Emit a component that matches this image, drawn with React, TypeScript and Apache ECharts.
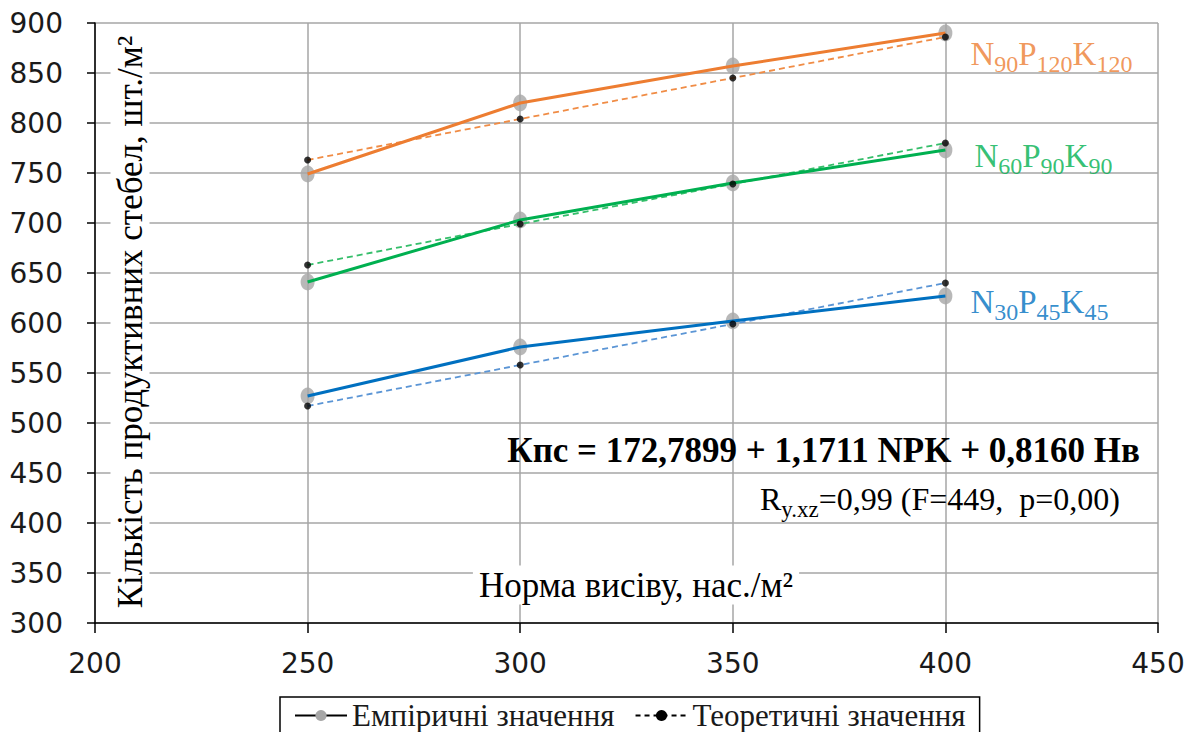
import React, { useEffect, useRef } from "react";
import * as echarts from "echarts";

const xValues = [250, 300, 350, 400];
const empHigh = [749, 820, 857, 890];
const empMid = [641, 703, 740, 773];
const empLow = [527, 576, 602, 627];
const theoHigh = [763, 804, 845, 886];
const theoMid = [658, 699, 739, 780];
const theoLow = [517, 558, 599, 640];

const xTicks = { min: 200, max: 450, interval: 50 };
const yTicks = { min: 300, max: 900, interval: 50 };

const groups = [
  { key: "high", emp: empHigh, theo: theoHigh, color: "#ED7D31", dash: "#F08C45", sub: ["90", "120", "120"], offset: [18, 19] },
  { key: "mid", emp: empMid, theo: theoMid, color: "#00B050", dash: "#35BE6A", sub: ["60", "90", "90"], offset: [22, 4] },
  { key: "low", emp: empLow, theo: theoLow, color: "#0070C0", dash: "#5B95D5", sub: ["30", "45", "45"], offset: [18, 4] },
];

const SERIF = "'Liberation Serif', 'Times New Roman', serif";
const SANS = "'DejaVu Sans', Verdana, sans-serif";

export default function App() {
  const ref = useRef<HTMLDivElement>(null);
  useEffect(() => {
    if (!ref.current) return;
    const chart = echarts.init(ref.current, undefined, { renderer: "svg" });
    const pts = (arr: number[]) => xValues.map((x, i) => [x, arr[i]]);
    const series: any[] = [];
    groups.forEach((g) => {
      const labelText = `{n|N}{s|${g.sub[0]}}{n|P}{s|${g.sub[1]}}{n|K}{s|${g.sub[2]}}`;
      series.push({
        type: "scatter",
        name: g.key + "-empmarks",
        z: 1,
        symbol: "circle",
        symbolSize: [14, 17],
        itemStyle: { color: "#A6A6A6" },
        data: pts(g.emp).map((p, i) =>
          i === xValues.length - 1
            ? {
                value: p,
                label: {
                  show: true,
                  position: "right",
                  distance: 0,
                  offset: g.offset,
                  formatter: labelText,
                  rich: {
                    n: { fontFamily: SERIF, fontSize: 33, color: g.color, verticalAlign: "bottom", lineHeight: 36 },
                    s: { fontFamily: SERIF, fontSize: 24, color: g.color, verticalAlign: "bottom", lineHeight: 36, padding: [0, 0, -6, 0] },
                  },
                },
              }
            : { value: p }
        ),
      });
      series.push({
        type: "line",
        name: g.key + "-theo",
        z: 2,
        symbol: "none",
        lineStyle: { color: g.dash, width: 1.8, type: [6, 4] },
        data: pts(g.theo),
      });
      series.push({
        type: "line",
        name: g.key + "-emp",
        z: 3,
        symbol: "none",
        lineStyle: { color: g.color, width: 3 },
        data: pts(g.emp),
      });
      series.push({
        type: "scatter",
        name: g.key + "-theomarks",
        z: 4,
        symbol: "circle",
        symbolSize: 7,
        itemStyle: { color: "#000" },
        data: pts(g.theo),
      });
    });
    series.push({
      type: "line",
      name: "Емпіричні значення",
      symbol: "circle",
      symbolSize: 14,
      itemStyle: { color: "#A6A6A6" },
      lineStyle: { color: "#000", width: 3 },
      data: [],
    });
    series.push({
      type: "line",
      name: "Теоретичні значення",
      symbol: "circle",
      symbolSize: 7,
      itemStyle: { color: "#000" },
      lineStyle: { color: "#000", width: 1.5, type: [5, 4] },
      data: [],
    });

    chart.setOption({
      animation: false,
      backgroundColor: "#fff",
      grid: { left: 95, right: 38, top: 23, bottom: 117 },
      xAxis: {
        type: "value",
        min: xTicks.min,
        max: xTicks.max,
        interval: xTicks.interval,
        axisLine: { show: true, lineStyle: { color: "#000", width: 1.5 } },
        axisTick: { show: true, length: 10, lineStyle: { color: "#000", width: 1.5 } },
        axisLabel: { margin: 26, fontFamily: SANS, fontSize: 28, color: "#1a1a1a" },
        splitLine: { show: true, lineStyle: { color: "#A6A6A6", width: 1.5 } },
      },
      yAxis: {
        type: "value",
        min: yTicks.min,
        max: yTicks.max,
        interval: yTicks.interval,
        axisLine: { show: true, lineStyle: { color: "#000", width: 1.5 } },
        axisTick: { show: true, length: 8, lineStyle: { color: "#000", width: 1.5 } },
        axisLabel: { margin: 32, fontFamily: SANS, fontSize: 28, color: "#1a1a1a" },
        splitLine: { show: true, lineStyle: { color: "#A6A6A6", width: 1.5 } },
      },
      legend: {
        data: ["Емпіричні значення", "Теоретичні значення"],
        left: 280,
        top: 697,
        padding: [3, 14, 14, 14],
        borderColor: "#000",
        borderWidth: 1.5,
        itemWidth: 52,
        itemHeight: 14,
        itemGap: 20,
        textStyle: { fontFamily: SERIF, fontSize: 31, color: "#1a1a1a" },
      },
      graphic: [
        {
          type: "text",
          z: 1,
          x: 130,
          y: 322,
          rotation: Math.PI / 2,
          style: {
            text: "Кількість продуктивних стебел, шт./м²",
            fontFamily: SERIF,
            fontSize: 35,
            fill: "#000",
            align: "center",
            verticalAlign: "middle",
            backgroundColor: "#fff",
            padding: [2, 6],
          },
        },
        {
          type: "text",
          z: 1,
          x: 636,
          y: 585,
          style: {
            text: "Норма висіву, нас./м²",
            fontFamily: SERIF,
            fontSize: 35,
            fill: "#000",
            align: "center",
            verticalAlign: "middle",
            backgroundColor: "#fff",
            padding: [2, 6],
          },
        },
        {
          type: "text",
          z: 5,
          x: 1140,
          y: 450,
          style: {
            text: "Кпс = 172,7899 + 1,1711 NPK + 0,8160 Нв",
            fontFamily: SERIF,
            fontWeight: "bold",
            fontSize: 35,
            fill: "#000",
            align: "right",
            verticalAlign: "middle",
          },
        },
        {
          type: "text",
          z: 5,
          x: 1120,
          y: 497,
          style: {
            text: "{a|R}{b|y.xz}{a|=0,99 (F=449,  p=0,00)}",
            fontFamily: SERIF,
            align: "right",
            verticalAlign: "middle",
            rich: {
              a: { fontFamily: SERIF, fontSize: 32, fill: "#000", color: "#000", verticalAlign: "bottom", lineHeight: 36 },
              b: { fontFamily: SERIF, fontSize: 23, fill: "#000", color: "#000", verticalAlign: "bottom", lineHeight: 36, padding: [0, 0, -6, 0] },
            },
          },
        },
      ],
      series,
    });
    return () => chart.dispose();
  }, []);
  return <div ref={ref} style={{ width: 1196, height: 740, margin: -8 }} />;
}
